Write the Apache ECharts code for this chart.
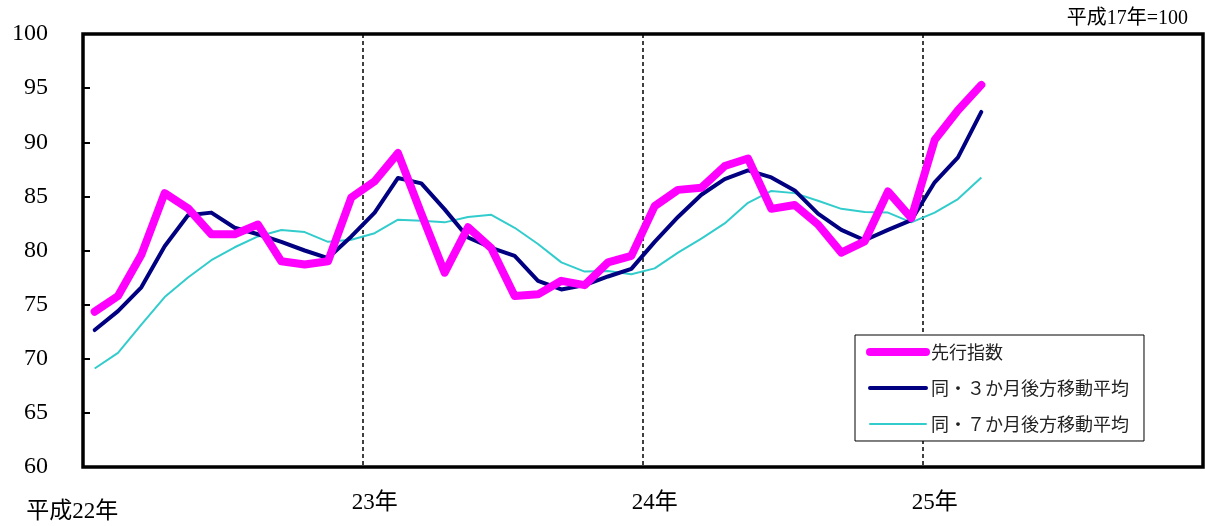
<!DOCTYPE html>
<html>
<head>
<meta charset="utf-8">
<script src="https://cdn.jsdelivr.net/npm/echarts@6/dist/echarts.min.js"></script>
<style>
html,body{margin:0;padding:0;background:#fff;}
#chart{width:1205px;height:526px;}
</style>
</head>
<body>
<div id="chart"></div>
<script>
// Months Jan 2010 (平成22年) .. Dec 2013 (平成25年)
var categories = [];
for (var y = 22; y <= 25; y++) { for (var m = 1; m <= 12; m++) { categories.push('H' + y + '.' + m); } }
var yearLabels = ['平成22年', '23年', '24年', '25年']; // at Jan of each year
var seriesNames = ['先行指数', '同・３か月後方移動平均', '同・７か月後方移動平均'];

var leadingIndex = [74.35, 75.8, 79.6, 85.3, 83.9, 81.5, 81.5, 82.4, 79.0, 78.7,
  79.0, 84.9, 86.4, 89.0, 83.4, 77.95, 82.15, 80.2, 75.8, 75.95,
  77.2, 76.8, 78.9, 79.5, 84.1, 85.6, 85.8, 87.8, 88.5, 83.85,
  84.2, 82.4, 79.8, 80.85, 85.45, 83.0, 90.2, 92.95, 95.3];
var ma3 = [72.65, 74.4, 76.6, 80.4, 83.25, 83.5, 82.1, 81.5, 80.8, 80.0,
  79.3, 81.3, 83.5, 86.7, 86.2, 83.8, 81.2, 80.25, 79.5, 77.2,
  76.4, 76.8, 77.6, 78.3, 80.8, 83.1, 85.15, 86.6, 87.4, 86.75,
  85.55, 83.4, 81.9, 80.95, 81.9, 82.8, 86.3, 88.6, 92.8];
var ma7 = [69.1, 70.55, 73.15, 75.7, 77.5, 79.1, 80.3, 81.3, 81.9, 81.7,
  80.8, 81.0, 81.6, 82.85, 82.75, 82.6, 83.1, 83.3, 82.1, 80.6,
  78.9, 78.05, 78.1, 77.8, 78.35, 79.8, 81.1, 82.5, 84.4, 85.5,
  85.3, 84.6, 83.85, 83.55, 83.5, 82.6, 83.5, 84.75, 86.75];

var yTicks = {min: 60, max: 100, interval: 5};

var chart = echarts.init(document.getElementById('chart'), null, {renderer: 'canvas'});
var serif = '"Liberation Serif", "Noto Sans CJK JP", serif';
var cjk = '"Noto Sans CJK JP", sans-serif';

chart.setOption({
  animation: false,
  backgroundColor: '#ffffff',
  title: {
    text: '平成17年=100',
    right: 12, top: 4,
    textStyle: {fontFamily: serif, fontSize: 20, fontWeight: 'normal', color: '#000'}
  },
  grid: {
    left: 83, right: 2, top: 34, bottom: 59,
    show: true, borderColor: '#000', borderWidth: 3.5, backgroundColor: 'transparent',
    containLabel: false
  },
  legend: {
    orient: 'vertical',
    left: 855, top: 335,
    padding: [8, 15, 8, 11],
    itemWidth: 56, itemHeight: 18, itemGap: 18,
    backgroundColor: '#fff',
    borderColor: '#000', borderWidth: 1,
    lineStyle: {width: 'inherit', cap: 'round'},
    itemStyle: {opacity: 0},
    textStyle: {fontFamily: cjk, fontSize: 18, color: '#222'},
    data: seriesNames
  },
  xAxis: {
    type: 'category',
    data: categories,
    boundaryGap: true,
    axisLine: {show: false},
    axisTick: {show: false},
    axisLabel: {
      interval: function (i) { return i % 12 === 0; },
      margin: 24,
      fontFamily: serif, fontSize: 23, color: '#000',
      formatter: function (v, i) {
        var lab = yearLabels[Math.floor(i / 12)];
        return i === 0 ? '{first|' + lab + '}' : lab;
      },
      rich: {first: {fontFamily: serif, fontSize: 23, color: '#000', padding: [9, 45, 0, 0]}}
    },
    splitLine: {
      show: true,
      interval: function (i) { return i > 0 && i % 12 === 0; },
      lineStyle: {color: '#000', width: 1.5, type: [4, 3]}
    }
  },
  yAxis: {
    type: 'value',
    min: yTicks.min, max: yTicks.max, interval: yTicks.interval,
    axisLine: {show: false},
    axisTick: {show: true, inside: true, length: 7, lineStyle: {color: '#000', width: 2}},
    axisLabel: {margin: 35, fontFamily: serif, fontSize: 24, color: '#000', padding: [5, 0, 0, 0]},
    splitLine: {show: false}
  },
  series: [
    {
      name: seriesNames[0], type: 'line', data: leadingIndex, symbol: 'none', z: 5,
      lineStyle: {color: '#FF00FF', width: 8, cap: 'round', join: 'round'},
      itemStyle: {color: '#FF00FF'}
    },
    {
      name: seriesNames[1], type: 'line', data: ma3, symbol: 'none', z: 4,
      lineStyle: {color: '#000080', width: 4, cap: 'round', join: 'round'},
      itemStyle: {color: '#000080'}
    },
    {
      name: seriesNames[2], type: 'line', data: ma7, symbol: 'none', z: 3,
      lineStyle: {color: '#33CCCC', width: 2},
      itemStyle: {color: '#33CCCC'}
    }
  ]
});
</script>
</body>
</html>
